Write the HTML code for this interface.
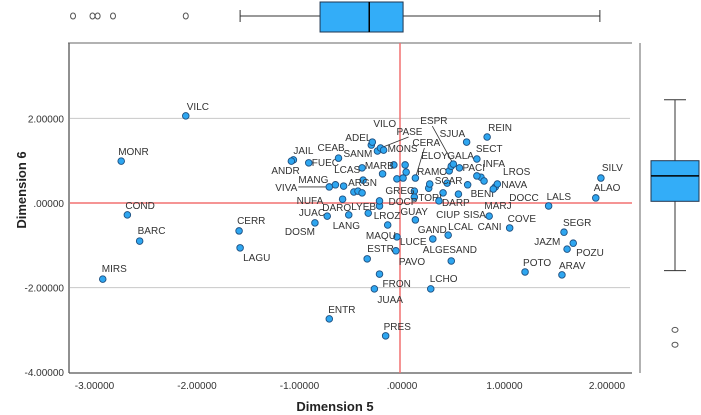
<!DOCTYPE html>
<html><head><meta charset="utf-8"><style>
body{margin:0;background:#fff}
svg{display:block;font-family:"Liberation Sans",Arial,sans-serif}
</style></head><body>
<svg id="c" width="701" height="415"></svg>
<script>
const names=["VILC","MONR","COND","BARC","MIRS","CERR","LAGU","JAIL","ANDR","FUEC","CEAB","SANM","ADEL","VILO","PASE","MONS","MARB","CERA","RAMO","GREG","TORI","SCAR","DARP","ELOY","GALA","ESPR","PACI","SJUA","REIN","SECT","INFA","LROS","BENI","NAVA","DOCC","LALS","SILV","ALAO","SISA","MARJ","GUAY","LCAL","COVE","GAND","SAND","MAQU","LUCE","ESTR","LROZ","LYEB","DOCP","DARO","DOSM","LANG","NUFA","VIVA","MANG","ARGN","LCAS","FRON","JUAA","LCHO","ENTR","PRES","POTO","ARAV","SEGR","JAZM","POZU"];
const dim5=[-2.09,-2.72,-2.66,-2.54,-2.90,-1.57,-1.56,-1.04,-1.06,-0.89,-0.60,-0.22,-0.28,-0.27,-0.19,-0.16,-0.06,0.15,0.03,0.14,0.14,0.29,0.38,0.48,0.50,0.52,0.58,0.65,0.85,0.75,0.75,0.82,0.66,0.95,0.91,1.45,1.96,1.91,0.87,0.57,0.15,0.47,1.07,0.32,0.50,-0.03,-0.04,-0.32,-0.12,-0.31,-0.20,-0.71,-0.83,-0.50,-0.56,-0.69,-0.63,-0.36,-0.37,-0.20,-0.25,0.30,-0.69,-0.14,1.22,1.58,1.60,1.69,1.63];
const dim6=[2.06,0.99,-0.28,-0.90,-1.80,-0.66,-1.06,1.02,0.99,0.95,1.06,1.23,1.37,1.44,1.30,1.25,0.90,0.59,0.59,0.28,0.14,0.45,0.05,0.76,0.87,0.92,0.83,1.44,1.56,1.04,0.64,0.52,0.43,0.45,0.33,-0.07,0.59,0.12,-0.31,0.21,-0.40,-0.76,-0.59,-0.85,-1.37,-0.80,-1.13,-1.32,-0.52,-0.24,0.05,-0.31,-0.47,-0.28,0.09,0.38,0.43,0.54,0.83,-1.68,-2.03,-2.03,-2.74,-3.14,-1.63,-1.70,-0.69,-0.95,-1.09];
const labelDx=[1,-3,-2,-2,-1,-2,3,0,-20,3,-21,-34,-26,1,16,4,-29,-3,14,-29,4,5,3,-28,-4,-33,3,-27,1,-1,6,19,3,4,16,-2,1,-2,-26,26,-15,0,-2,-15,-2,-31,4,0,-14,-17,9,-5,-30,-16,-46,-54,-37,-15,-28,3,3,-1,-1,-2,-2,-3,-1,-39,9];
const labelDy=[-6,-6,-6,-7,-7,-7,13,-6,13,3,-7,6,-4,-15,-13,2,4,-32,-3,3,4,0,5,-12,-7,-40,3,-5,-6,-7,-9,-6,12,4,12,-6,-7,-7,2,15,-5,-5,-6,-6,-8,2,-6,-7,-6,-3,4,-5,12,14,5,4,-2,6,5,13,14,-7,-6,-6,-6,-6,-6,2,7];
const leaderNames=["VIVA","PASE","CERA","ESPR"];
const extraX=[0.05,-0.17,0.06,-0.03,0.46,0.42,0.79,0.93,-0.55,-0.45,-0.41,-0.37,-0.20,0.28];
const extraY=[0.90,0.69,0.73,0.57,0.47,0.24,0.61,0.38,0.40,0.26,0.28,0.24,-0.07,0.35];
const extraLabels=["CIUP","CANI","ALGE","PAVO","JUAC"];
const extraAnchor=["LCAL","COVE","GAND","LUCE","DOSM"];
const extraDx=[-12,-32,-10,3,-16];
const extraDy=[-17,2,14,14,-7];
const xTicks=[-3,-2,-1,0,1,2];
const xTickLabels=["-3.00000","-2.00000","-1.00000",".00000","1.00000","2.00000"];
const yTicks=[2,0,-2,-4];
const yTickLabels=["2.00000",".00000","-2.00000","-4.00000"];
const xOut=[-3.19,-3.0,-2.95,-2.8,-2.09];
const xBox=[-1.56,-0.78,-0.30,0.03,1.95];
const yBox=[-1.60,0.04,0.64,1.00,2.44];
const yOut=[-3.00,-3.35];

const X=v=>400+v*102.5, Y=v=>203-v*42.3;
const svg=document.getElementById('c');const NS="http://www.w3.org/2000/svg";
function mk(t,a,p){const e=document.createElementNS(NS,t);for(const k in a)e.setAttribute(k,a[k]);(p||svg).appendChild(e);return e;}
// frame
let e;
e=mk('line',{x1:69,y1:43,x2:69,y2:373,stroke:'#555','stroke-width':1.3});


e=mk('line',{x1:69,y1:373,x2:632,y2:373,stroke:'#555','stroke-width':1.3});


e=mk('line',{x1:68,y1:43,x2:632,y2:43,stroke:'#666','stroke-width':1});


e=mk('line',{x1:640,y1:43,x2:640,y2:373,stroke:'#666','stroke-width':1});


yTicks.forEach((v,i)=>{
 if(v===2||v===-2){e=mk('line',{x1:70,y1:Y(v),x2:630,y2:Y(v),stroke:'#c8c8c8'});
 
 }
 e=mk('text',{x:64,y:Y(v)+4,'font-size':10,'text-anchor':'end',fill:'#333'});e.textContent=yTickLabels[i];
 
 
});
xTicks.forEach((v,i)=>{
 e=mk('text',{x:X(v)+2,y:389,'font-size':10,'text-anchor':'middle',fill:'#333'});e.textContent=xTickLabels[i];
 
 
});
e=mk('line',{x1:X(0),y1:43,x2:X(0),y2:373,stroke:'#f27070','stroke-width':1.5});


e=mk('line',{x1:70,y1:Y(0),x2:632,y2:Y(0),stroke:'#f27070','stroke-width':1.5});


e=mk('text',{x:335,y:411,'font-size':13,'font-weight':'bold','text-anchor':'middle',fill:'#222'});e.textContent='Dimension 5';


e=mk('text',{x:0,y:0,'font-size':13,'font-weight':'bold','text-anchor':'middle',fill:'#222',transform:'translate(26,190) rotate(-90)'});e.textContent='Dimension 6';


// leaders
const idx=n=>names.indexOf(n);
leaderNames.forEach(n=>{const i=idx(n);const px=X(dim5[i]),py=Y(dim6[i]);let lx=px+labelDx[i],ly=py+labelDy[i]-4;
 if(n==='VIVA'){lx+=23;}else{lx+=12;ly+=6;}
 e=mk('line',{x1:lx,y1:ly,x2:px,y2:py,stroke:'#333','stroke-width':0.8});
 
 
});
// points
const dot=(x,y)=>{e=mk('circle',{cx:X(x),cy:Y(y),r:3.3,fill:'#2ea6f0',stroke:'#1d4f80','stroke-width':0.9});return e;};
extraX.forEach((v,i)=>{dot(v,extraY[i]);
 
 
});
names.forEach((n,i)=>{dot(dim5[i],dim6[i]);
 
 
 e=mk('text',{x:X(dim5[i])+labelDx[i],y:Y(dim6[i])+labelDy[i],'font-size':10,fill:'#333'});e.textContent=n;
 
 
});
extraLabels.forEach((n,j)=>{const i=idx(extraAnchor[j]);
 e=mk('text',{x:X(dim5[i])+extraDx[j],y:Y(dim6[i])+extraDy[j],'font-size':10,fill:'#333'});e.textContent=n;
 
 
});
// top boxplot (dimension 5)
const bc=16;
e=mk('line',{x1:X(xBox[0]),y1:bc,x2:X(xBox[4]),y2:bc,stroke:'#333'});


[0,4].forEach(k=>{e=mk('line',{x1:X(xBox[k]),y1:bc-6,x2:X(xBox[k]),y2:bc+6,stroke:'#333'});
 
 });
e=mk('rect',{x:X(xBox[1]),y:2,width:X(xBox[3])-X(xBox[1]),height:30,fill:'#33adf8',stroke:'#1f3550','stroke-width':1});


e=mk('line',{x1:X(xBox[2]),y1:2,x2:X(xBox[2]),y2:32,stroke:'#000','stroke-width':1.5});


xOut.forEach(v=>{e=mk('ellipse',{cx:X(v),cy:bc,rx:2.5,ry:3,fill:'none',stroke:'#555'});
 
 });
// right boxplot (dimension 6)
const rc=675;
e=mk('line',{x1:rc,y1:Y(yBox[4]),x2:rc,y2:Y(yBox[0]),stroke:'#333'});


[0,4].forEach(k=>{e=mk('line',{x1:rc-11,y1:Y(yBox[k]),x2:rc+11,y2:Y(yBox[k]),stroke:'#333'});
 
 });
e=mk('rect',{x:651,y:Y(yBox[3]),width:48,height:Y(yBox[1])-Y(yBox[3]),fill:'#33adf8',stroke:'#1f3550','stroke-width':1});


e=mk('line',{x1:651,y1:Y(yBox[2]),x2:699,y2:Y(yBox[2]),stroke:'#000','stroke-width':1.5});


yOut.forEach(v=>{e=mk('ellipse',{cx:rc,cy:Y(v),rx:3,ry:2.5,fill:'none',stroke:'#555'});
 
 });
</script>
</body></html>
